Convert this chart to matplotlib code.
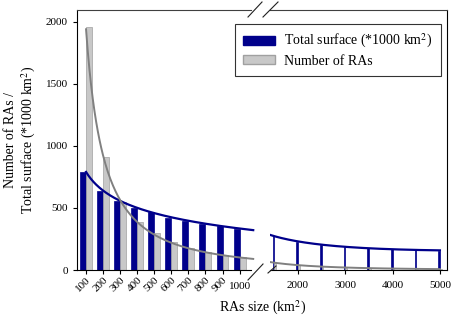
import numpy as np
import matplotlib
matplotlib.use('Agg')
import matplotlib.pyplot as plt
from matplotlib.patches import Patch
from matplotlib.lines import Line2D

plt.rcParams['font.family'] = 'Liberation Serif'
plt.rcParams['mathtext.fontset'] = 'stix'

# bins up to 1000 km2 (left panel)
sizes_small = [100, 200, 300, 400, 500, 600, 700, 800, 900, 1000]
surface_small = [790, 640, 553, 500, 467, 421, 395, 371, 354, 334]
count_small = [1960, 907, 550, 384, 296, 224, 176, 141, 117, 101]

# bins above 1000 km2 (right panel)
sizes_large = [1500, 2000, 2500, 3000, 3500, 4000, 4500, 5000]
surface_large = [277, 223, 201, 186, 180, 173, 165, 150]
count_large = [60, 38, 27, 20, 15, 12, 9, 7]

navy = '#00008b'
gray_fill = '#c8c8c8'
gray_line = '#808080'
bar_w = 35


def log_fit(x, y, xs, loglog=False):
    lx = np.log(x)
    if loglog:
        c = np.polyfit(lx, np.log(y), 2)
        return np.exp(np.polyval(c, np.log(xs)))
    c = np.polyfit(lx, y, 2)
    return np.polyval(c, np.log(xs))


W, H = 454, 324
fig = plt.figure(figsize=(W / 100, H / 100), dpi=100)
bot, top = 1 - 270 / H, 1 - 10 / H
ax1 = fig.add_axes([77 / W, bot, (251 - 77) / W, top - bot])
ax2 = fig.add_axes([270 / W, bot, (447 - 270) / W, top - bot], sharey=ax1)

# left panel
ax1.bar(np.array(sizes_small) - bar_w, surface_small, width=bar_w, align='edge',
        color=navy, edgecolor=navy, linewidth=0.5, zorder=2)
ax1.bar(sizes_small, count_small, width=bar_w, align='edge',
        color=gray_fill, edgecolor='#a0a0a0', linewidth=0.5, zorder=2)
xs1 = np.linspace(100, 1080, 200)
ax1.plot(xs1, log_fit(sizes_small, surface_small, xs1), color=navy, lw=1.6, zorder=3,
         clip_on=False)
ax1.plot(xs1, log_fit(sizes_small, count_small, xs1, loglog=True), color=gray_line, lw=1.4,
         zorder=3, clip_on=False)

ax1.set_xlim(47, 1067)
ax1.set_ylim(0, 2094)
ax1.set_yticks([0, 500, 1000, 1500, 2000])
ax1.set_xticks(sizes_small)
ax1.set_xticklabels([str(s) for s in sizes_small[:-1]] + [''], rotation=45,
                    ha='right', rotation_mode='anchor')
ax1.annotate('1000', xy=(1000, 0), xycoords=('data', 'axes fraction'),
             xytext=(0, -12), textcoords='offset points', ha='center', va='center',
             fontsize=8)
ax1.spines['right'].set_visible(False)

# right panel
ax2.bar(np.array(sizes_large) - bar_w, surface_large, width=bar_w, align='edge',
        color=navy, edgecolor=navy, linewidth=0.5, zorder=2)
ax2.bar(sizes_large, count_large, width=bar_w, align='edge',
        color=gray_fill, edgecolor='#a0a0a0', linewidth=0.5, zorder=2)
xs2 = np.linspace(1400, 5000, 200)
ax2.plot(xs2, log_fit(sizes_large, surface_large, xs2), color=navy, lw=1.6, zorder=3)
ax2.plot(xs2, log_fit(sizes_large, count_large, xs2, loglog=True), color=gray_line, lw=1.4, zorder=3)
ax2.set_xlim(1408, 5150)
ax2.set_xticks([2000, 3000, 4000, 5000])
ax2.spines['left'].set_visible(False)
ax2.tick_params(axis='y', left=False, labelleft=False)

for ax in (ax1, ax2):
    ax.tick_params(labelsize=8, length=3, width=0.8, direction='out')
    for sp in ax.spines.values():
        sp.set_linewidth(0.8)
    ax.spines['top'].set_color('#404040')
ax1.tick_params(axis='x', pad=1)
ax2.tick_params(axis='x', pad=5)

ax1.set_ylabel('Number of RAs /\nTotal surface (*1000 km$^{2}$)', fontsize=10, labelpad=6)
fig.text(263 / W, 1 - 308 / H, 'RAs size (km$^{2}$)', ha='center', va='center', fontsize=10)

# break marks
for (x0, y0, x1, y1) in [(248, 17, 262, 2), (263, 17, 278, 2),
                         (248, 280, 263, 264), (268, 273, 276, 266)]:
    fig.add_artist(Line2D([x0 / W, x1 / W], [1 - y0 / H, 1 - y1 / H],
                          color='#202020', lw=0.8))

handles = [Patch(facecolor=navy, edgecolor=navy),
           Patch(facecolor=gray_fill, edgecolor='#a0a0a0')]
leg = fig.legend(handles, ['Total surface (*1000 km$^{2}$)', 'Number of RAs'],
                 loc='upper left', bbox_to_anchor=(235 / W, 1 - 24 / H),
                 borderaxespad=0, fontsize=10, frameon=True, fancybox=False,
                 edgecolor='black', handlelength=2.3, handleheight=0.6,
                 borderpad=0.6, labelspacing=0.3, handletextpad=0.65)
leg.get_frame().set_linewidth(0.8)

fig.savefig('out.png', dpi=100)
